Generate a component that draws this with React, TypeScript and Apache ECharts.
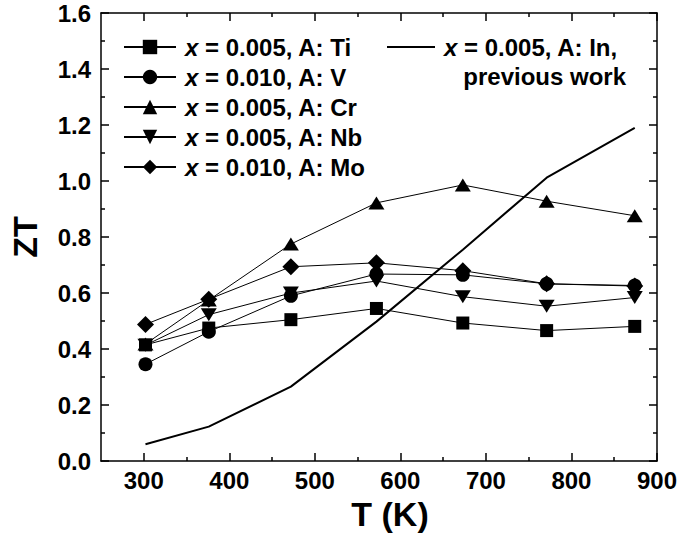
import React, { useEffect, useRef } from "react";
import * as echarts from "echarts";

const temps = [302, 376, 472, 572, 673, 771, 874];
const ti = [0.415, 0.475, 0.505, 0.545, 0.493, 0.466, 0.481];
const vv = [0.346, 0.462, 0.59, 0.668, 0.665, 0.633, 0.627];
const cr = [0.418, 0.575, 0.775, 0.922, 0.986, 0.928, 0.876];
const nb = [0.414, 0.523, 0.6, 0.643, 0.587, 0.553, 0.584];
const mo = [0.488, 0.578, 0.694, 0.708, 0.68, 0.633, 0.625];
const prevTemps = [302, 376, 472, 572, 673, 771, 874];
const prev = [0.06, 0.123, 0.266, 0.498, 0.755, 1.012, 1.19];

const names = [
  "x = 0.005, A: Ti",
  "x = 0.010, A: V",
  "x = 0.005, A: Cr",
  "x = 0.005, A: Nb",
  "x = 0.010, A: Mo",
];
const prevName = "x = 0.005, A: In,";
const prevName2 = "previous work";
const majorX = [300, 400, 500, 600, 700, 800, 900];
const minorX = [350, 450, 550, 650, 750, 850];

const FONT = "'Liberation Sans', Arial, Helvetica, sans-serif";
const FS = 24;

export default function App() {
  const ref = useRef<HTMLDivElement>(null);
  useEffect(() => {
    const chart = echarts.init(ref.current!, null, { renderer: "svg" });
    const pair = (xs: number[], ys: number[]) => xs.map((x, i) => [x, ys[i]]);
    const sets = [ti, vv, cr, nb, mo];
    const symbols = ["rect", "circle", "triangle", "triangle", "diamond"];
    const sizes: any[] = [13, 14, [16, 13], [16, 13], 17];
    const rots = [0, 0, 0, 180, 0];
    const rich = {
      i: { fontStyle: "italic", fontWeight: "bold", fontSize: FS, fontFamily: FONT, color: "#000", padding: [0, 0, 0, 4] },
      n: { fontWeight: "bold", fontSize: FS, fontFamily: FONT, color: "#000" },
    };
    const fmt = (name: string) => `{i|x}{n|${name.slice(1)}}`;
    const series: any[] = sets.map((d, k) => ({
      name: names[k],
      type: "line",
      data: pair(temps, d),
      symbol: symbols[k],
      symbolSize: sizes[k],
      symbolRotate: rots[k],
      lineStyle: { color: "#000", width: 1 },
      itemStyle: { color: "#000" },
      z: 3,
    }));
    series.push({
      name: prevName,
      type: "line",
      data: pair(prevTemps, prev),
      symbol: "none",
      lineStyle: { color: "#000", width: 2 },
      itemStyle: { color: "#000" },
      z: 2,
    });
    const tickStyle = { color: "#000", width: 1.5 };
    const baseX = {
      type: "value",
      min: 250,
      max: 900,
      splitLine: { show: false },
    };
    const baseY = {
      type: "value",
      min: 0,
      max: 1.6,
      interval: 0.2,
      splitLine: { show: false },
    };
    chart.setOption({
      animation: false,
      backgroundColor: "#fff",
      grid: { left: 98, right: 23, top: 13, bottom: 73 },
      legend: [
        {
          orient: "vertical",
          left: 123,
          top: 35,
          padding: 0,
          itemWidth: 52,
          itemHeight: 18,
          itemGap: 6,
          data: names,
          formatter: fmt,
          textStyle: { fontSize: FS, fontWeight: "bold", fontFamily: FONT, color: "#000", rich },
        },
        {
          orient: "vertical",
          left: 387,
          top: 35,
          padding: 0,
          itemWidth: 48,
          itemHeight: 18,
          icon: "path://M0,0L48,0L48,2L0,2Z",
          itemStyle: { color: "#000" },
          data: [prevName],
          formatter: fmt,
          textStyle: { fontSize: FS, fontWeight: "bold", fontFamily: FONT, color: "#000", rich },
        },
      ],
      graphic: [
        {
          type: "text",
          x: 626,
          y: 76,
          style: {
            text: prevName2,
            align: "right",
            verticalAlign: "middle",
            fontSize: FS,
            fontWeight: "bold",
            fontFamily: FONT,
            fill: "#000",
          },
        },
      ],
      xAxis: [
        {
          ...baseX,
          position: "bottom",
          name: "T (K)",
          nameLocation: "middle",
          nameGap: 28,
          nameTextStyle: { fontSize: 34, fontWeight: "bold", fontFamily: FONT, color: "#000", padding: [0, 0, 0, 22] },
          axisLine: { show: true, lineStyle: { color: "#000", width: 1.5 } },
          axisTick: { show: true, inside: true, length: 8, lineStyle: tickStyle, customValues: majorX },
          axisLabel: {
            margin: 7,
            fontSize: FS,
            fontWeight: "bold",
            fontFamily: FONT,
            color: "#000",
            customValues: majorX,
          },
        },
        {
          ...baseX,
          position: "bottom",
          axisLine: { show: false },
          axisTick: { show: true, inside: true, length: 4, lineStyle: tickStyle, customValues: minorX },
          axisLabel: { show: false },
        },
        {
          ...baseX,
          position: "top",
          axisLine: { show: true, lineStyle: { color: "#000", width: 1.5 } },
          axisTick: { show: true, inside: true, length: 8, lineStyle: tickStyle, customValues: majorX },
          axisLabel: { show: false },
        },
        {
          ...baseX,
          position: "top",
          axisLine: { show: false },
          axisTick: { show: true, inside: true, length: 4, lineStyle: tickStyle, customValues: minorX },
          axisLabel: { show: false },
        },
      ],
      yAxis: [
        {
          ...baseY,
          position: "left",
          name: "ZT",
          nameLocation: "middle",
          nameGap: 59,
          nameTextStyle: { fontSize: 34, fontWeight: "bold", fontFamily: FONT, color: "#000" },
          axisLine: { show: true, lineStyle: { color: "#000", width: 1.5 } },
          axisTick: { show: true, inside: true, length: 8, lineStyle: tickStyle },
          minorTick: { show: true, splitNumber: 2, length: 4, lineStyle: tickStyle },
          axisLabel: {
            margin: 10,
            fontSize: FS,
            fontWeight: "bold",
            fontFamily: FONT,
            color: "#000",
            formatter: (v: number) => v.toFixed(1),
          },
        },
        {
          ...baseY,
          position: "right",
          axisLine: { show: true, lineStyle: { color: "#000", width: 1.5 } },
          axisTick: { show: true, inside: true, length: 8, lineStyle: tickStyle },
          minorTick: { show: true, splitNumber: 2, length: 4, lineStyle: tickStyle },
          axisLabel: { show: false },
        },
      ],
      series,
    });
    return () => chart.dispose();
  }, []);
  return <div ref={ref} style={{ width: 680, height: 536, position: "absolute", left: 0, top: 0 }} />;
}
